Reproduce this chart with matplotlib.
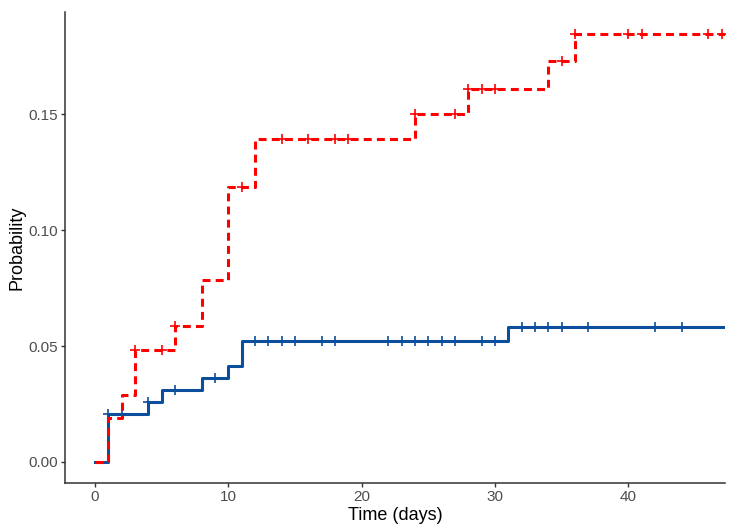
import matplotlib
matplotlib.use("Agg")
import matplotlib.pyplot as plt

# cumulative incidence
blue_times = [0, 1, 4, 5, 8, 10, 11, 31, 48]
blue_probs = [0, 0.0208, 0.0257, 0.0312, 0.0363, 0.0412, 0.0520, 0.0582, 0.0582]
blue_censor = [1, 2, 4, 6, 9, 12, 13, 14, 15, 17, 18, 22, 23, 24, 25, 26, 27,
               29, 30, 32, 33, 34, 35, 37, 42, 44]

red_times = [0, 1, 2, 3, 6, 8, 10, 12, 24, 28, 34, 36, 48]
red_probs = [0, 0.0191, 0.0290, 0.0481, 0.0588, 0.0786, 0.1185, 0.1392,
             0.1500, 0.1612, 0.1731, 0.1849, 0.1849]
red_censor = [3, 5, 6, 11, 14, 16, 18, 19, 24, 27, 28, 29, 30, 35, 36, 40, 41, 46, 47]

x_ticks = [0, 10, 20, 30, 40]
y_ticks = [0.00, 0.05, 0.10, 0.15]

BLUE = "#0B4F9C"
RED = "#FF0000"


def step_value(times, probs, t):
    v = probs[0]
    for ti, pi in zip(times, probs):
        if ti <= t:
            v = pi
    return v


plt.rcParams["font.family"] = ["Liberation Sans", "DejaVu Sans"]
fig = plt.figure(figsize=(7.38, 5.30), dpi=100)
ax = fig.add_axes([0.0881, 0.0881, 0.9824 - 0.0881, 0.9768 - 0.0881])

ax.step(blue_times, blue_probs, where="post", color=BLUE, lw=2.2, zorder=2)
ax.plot(blue_censor, [step_value(blue_times, blue_probs, t) for t in blue_censor],
        ls="none", marker="+", ms=7, mew=1.2, color=BLUE, zorder=3)

ax.step(red_times, red_probs, where="post", color=RED, lw=2.2,
        dashes=(2.6, 1.7), zorder=4)
ax.plot(red_censor, [step_value(red_times, red_probs, t) for t in red_censor],
        ls="none", marker="+", ms=7, mew=1.2, color=RED, zorder=5)

ax.set_xlim(-2.25, 47.25)
ax.set_ylim(-0.00925, 0.1941)
ax.set_xticks(x_ticks)
ax.set_yticks(y_ticks)
ax.set_yticklabels([f"{v:.2f}" for v in y_ticks])
ax.tick_params(labelsize=11, colors="#333333", labelcolor="#4D4D4D",
               length=3, width=1, pad=2)

for side in ["top", "right"]:
    ax.spines[side].set_visible(False)
for side in ["left", "bottom"]:
    ax.spines[side].set_color("#333333")
    ax.spines[side].set_linewidth(1.1)

ax.set_xlabel("Time (days)", fontsize=13, labelpad=2)
ax.set_ylabel("Probability", fontsize=13, labelpad=2)

fig.savefig("out.png", dpi=100)
